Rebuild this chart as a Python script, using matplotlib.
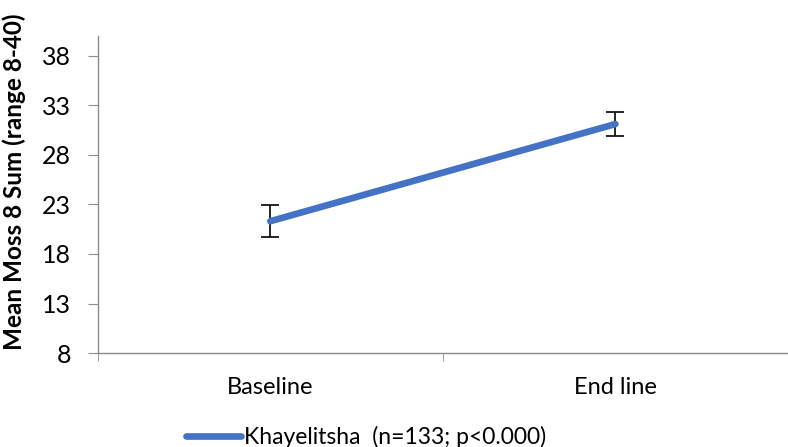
import matplotlib
matplotlib.use("Agg")
import matplotlib.pyplot as plt

# data
categories = ["Baseline", "End line"]
mean_scores = [21.3, 31.1]
error_low = [1.6, 1.2]
error_high = [1.6, 1.2]
series_label = "Khayelitsha  (n=133; p<0.000)"
y_ticks = [8, 13, 18, 23, 28, 33, 38]

LINE_BLUE = "#4472C4"
AXIS_GRAY = "#8C8C8C"

plt.rcParams["font.family"] = ["Lato", "DejaVu Sans"]


def main() -> None:
    figure = plt.figure(figsize=(7.88, 4.47), dpi=100)
    axis = figure.add_axes([0.124, 0.21, 0.876, 0.71])

    positions = list(range(len(categories)))

    axis.plot(
        positions,
        mean_scores,
        color=LINE_BLUE,
        linewidth=4.8,
        solid_capstyle="round",
        label=series_label,
        zorder=3,
    )

    axis.errorbar(
        positions,
        mean_scores,
        yerr=[error_low, error_high],
        fmt="none",
        ecolor="black",
        elinewidth=1.2,
        capsize=6.5,
        capthick=1.2,
        zorder=2,
    )

    axis.set_xlim(-0.5, len(categories) - 0.5)
    axis.set_ylim(8, 40)
    axis.set_yticks(y_ticks)
    axis.set_yticklabels([str(t) for t in y_ticks], fontsize=18)

    axis.set_xticks(positions)
    axis.set_xticklabels(categories, fontsize=17)
    axis.tick_params(axis="x", length=0, pad=17)
    axis.set_xticks([p - 0.5 for p in positions] + [positions[-1] + 0.5], minor=True)
    axis.tick_params(axis="x", which="minor", length=6, color=AXIS_GRAY, direction="out")
    axis.tick_params(axis="y", length=7, color=AXIS_GRAY, direction="out", pad=12)

    for side in ["top", "right"]:
        axis.spines[side].set_visible(False)
    for side in ["left", "bottom"]:
        axis.spines[side].set_color(AXIS_GRAY)
        axis.spines[side].set_linewidth(1.0)

    axis.set_ylabel(
        "Mean Moss 8 Sum (range 8-40)",
        fontsize=17.5,
        fontweight="bold",
    )
    axis.yaxis.set_label_coords(-0.104, 0.54)

    axis.legend(
        loc="upper left",
        bbox_to_anchor=(0.115, -0.2),
        frameon=False,
        fontsize=16.5,
        handlelength=2.4,
        handletextpad=0.1,
        borderaxespad=0,
    )

    figure.savefig("out.png", dpi=100)
    plt.close(figure)


if __name__ == "__main__":
    main()
